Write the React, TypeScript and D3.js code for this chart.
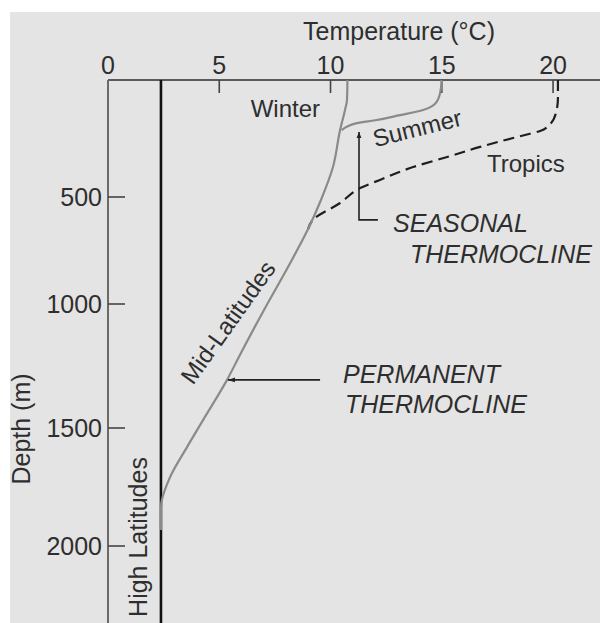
import * as d3 from "d3";

// temperature (°C) / depth (m) profiles
const winterTemp = [10.76, 10.74, 10.65, 10.43, 10.11, 9.57, 8.99, 8.09, 7.01, 5.88, 5.35, 4.27, 3.55, 2.79, 2.38, 2.38];
const winterDepth = [0, 85, 128, 214, 372, 514, 650, 827, 1024, 1214, 1306, 1468, 1581, 1708, 1835, 1932];

const summerTemp = [14.99, 14.95, 14.77, 14.16, 13.12, 12.08, 11.18, 10.73, 10.5];
const summerDepth = [0, 43, 93, 128, 150, 171, 184, 200, 214];

const tropicsTemp = [20.22, 20.22, 20.13, 19.87, 19.42, 18.74, 18.2, 16.72, 15.24, 13.71, 12.22, 11.33, 10.43, 9.21, 8.99];
const tropicsDepth = [0, 77, 141, 188, 218, 235, 248, 286, 329, 372, 427, 462, 528, 607, 650];

const highLatTemp = 2.38;

const tempTicks = [0, 5, 10, 15, 20];
const depthTicks = [500, 1000, 1500, 2000];

const W = 600;
const H = 623;
const FONT = "'Liberation Sans', Arial, Helvetica, sans-serif";
const INK = "#2e2e2e";

export default function App() {
  const x = d3.scaleLinear().domain([0, 22.11]).range([108, 600]);
  // hand-drawn depth axis: spacing is not quite even
  const y = d3
    .scaleLinear()
    .domain([0, 500, 1000, 1500, 2000, 2335])
    .range([80, 197, 304, 428, 546, 623]);

  const line = d3
    .line<[number, number]>()
    .x((d) => x(d[0]))
    .y((d) => y(d[1]))
    .curve(d3.curveMonotoneY);

  const zip = (t: number[], z: number[]) => t.map((v, i) => [v, z[i]] as [number, number]);

  const x0 = x(0);
  const y0 = y(0);

  // annotation arrows (data units)
  const seasX = x(11.28);
  const seasTop = y(222);
  const seasBot = y(607);
  const seasEnd = x(12.13);
  const permY = y(1306);
  const permFrom = x(9.53);
  const permTo = x(5.39);

  return (
    <svg
      width={W}
      height={H}
      style={{ position: "absolute", left: 0, top: 0 }}
      fontFamily={FONT}
    >
      <defs>
        <marker id="ah" viewBox="0 0 10 10" refX="10" refY="5" markerWidth="6" markerHeight="6" orient="auto-start-reverse" markerUnits="userSpaceOnUse">
          <path d="M0,1 L10,5 L0,9 z" fill="#222" />
        </marker>
        <marker id="ah2" viewBox="0 0 10 10" refX="10" refY="5" markerWidth="9" markerHeight="7" orient="auto" markerUnits="userSpaceOnUse">
          <path d="M0,1.5 L10,5 L0,8.5 z" fill="#222" />
        </marker>
      </defs>
      <rect x={0} y={0} width={W} height={H} fill="#fff" />
      <text x={15} y={15.5} fontSize={25} fontWeight="bold" fill="#333">a</text>
      <rect x={0} y={0} width={W} height={12} fill="#fff" />
      <rect x={10} y={12} width={W - 10} height={H - 12} fill="#e4e4e4" />

      {/* axes */}
      <line x1={x0} x2={W} y1={y0} y2={y0} stroke="#5a5a5a" strokeWidth={2.2} />
      <line x1={x0} x2={x0} y1={y0} y2={H} stroke="#6a6a6a" strokeWidth={2} />
      {tempTicks.map((t) => (
        <g key={t}>
          {t > 0 && <line x1={x(t)} x2={x(t)} y1={y0} y2={y0 + 13} stroke="#444" strokeWidth={1.6} />}
          <text x={x(t)} y={74} textAnchor="middle" fontSize={25} fill={INK}>
            {t}
          </text>
        </g>
      ))}
      {depthTicks.map((d) => (
        <g key={d}>
          <line x1={x0} x2={x0 + 17} y1={y(d)} y2={y(d)} stroke="#444" strokeWidth={1.6} />
          <text x={102} y={y(d) + 9} textAnchor="end" fontSize={25} fill={INK}>
            {d}
          </text>
        </g>
      ))}
      <text x={399} y={40} textAnchor="middle" fontSize={25} fill={INK}>
        Temperature (°C)
      </text>
      <text transform={`translate(30,429) rotate(-90)`} textAnchor="middle" fontSize={25} fill={INK}>
        Depth (m)
      </text>

      {/* high latitudes */}
      <line x1={x(highLatTemp)} x2={x(highLatTemp)} y1={y0} y2={H} stroke="#111" strokeWidth={2.6} />

      {/* profiles */}
      <path d={line(zip(tropicsTemp, tropicsDepth)) || ""} fill="none" stroke="#1e1e1e" strokeWidth={2.2} strokeDasharray="11,6" />
      <path d={line(zip(summerTemp, summerDepth)) || ""} fill="none" stroke="#8a8a8a" strokeWidth={2.2} />
      <path d={line(zip(winterTemp, winterDepth)) || ""} fill="none" stroke="#8a8a8a" strokeWidth={2.2} />

      {/* arrows */}
      <polyline
        points={`${seasEnd},${seasBot} ${seasX},${seasBot} ${seasX},${seasTop}`}
        fill="none"
        stroke="#222"
        strokeWidth={1.6}
        markerEnd="url(#ah)"
      />
      <line x1={permFrom} x2={permTo} y1={permY} y2={permY} stroke="#222" strokeWidth={1.6} markerEnd="url(#ah2)" />

      {/* labels */}
      <text x={x(9.53)} y={y(158)} textAnchor="end" fontSize={24} fill={INK}>Winter</text>
      <text transform={`translate(${x(13.89)},${y(205)}) rotate(-14)`} textAnchor="middle" dominantBaseline="central" fontSize={24} fill={INK}>
        Summer
      </text>
      <text x={x(17.03)} y={y(393)} fontSize={24} fill={INK}>Tropics</text>
      <text transform={`translate(${x(5.39)},${y(1073)}) rotate(-54.5)`} textAnchor="middle" dominantBaseline="central" fontSize={24} fill={INK}>
        Mid-Latitudes
      </text>
      <text transform={`translate(147,537) rotate(-90)`} textAnchor="middle" fontSize={25} fill={INK}>
        High Latitudes
      </text>
      <g fontStyle="italic" fontSize={25} fill={INK}>
        <text x={x(12.81)} y={y(664)}>SEASONAL</text>
        <text x={x(13.57)} y={y(808)}>THERMOCLINE</text>
        <text x={x(10.56)} y={y(1318)}>PERMANENT</text>
        <text x={x(10.65)} y={y(1440)}>THERMOCLINE</text>
      </g>
    </svg>
  );
}
